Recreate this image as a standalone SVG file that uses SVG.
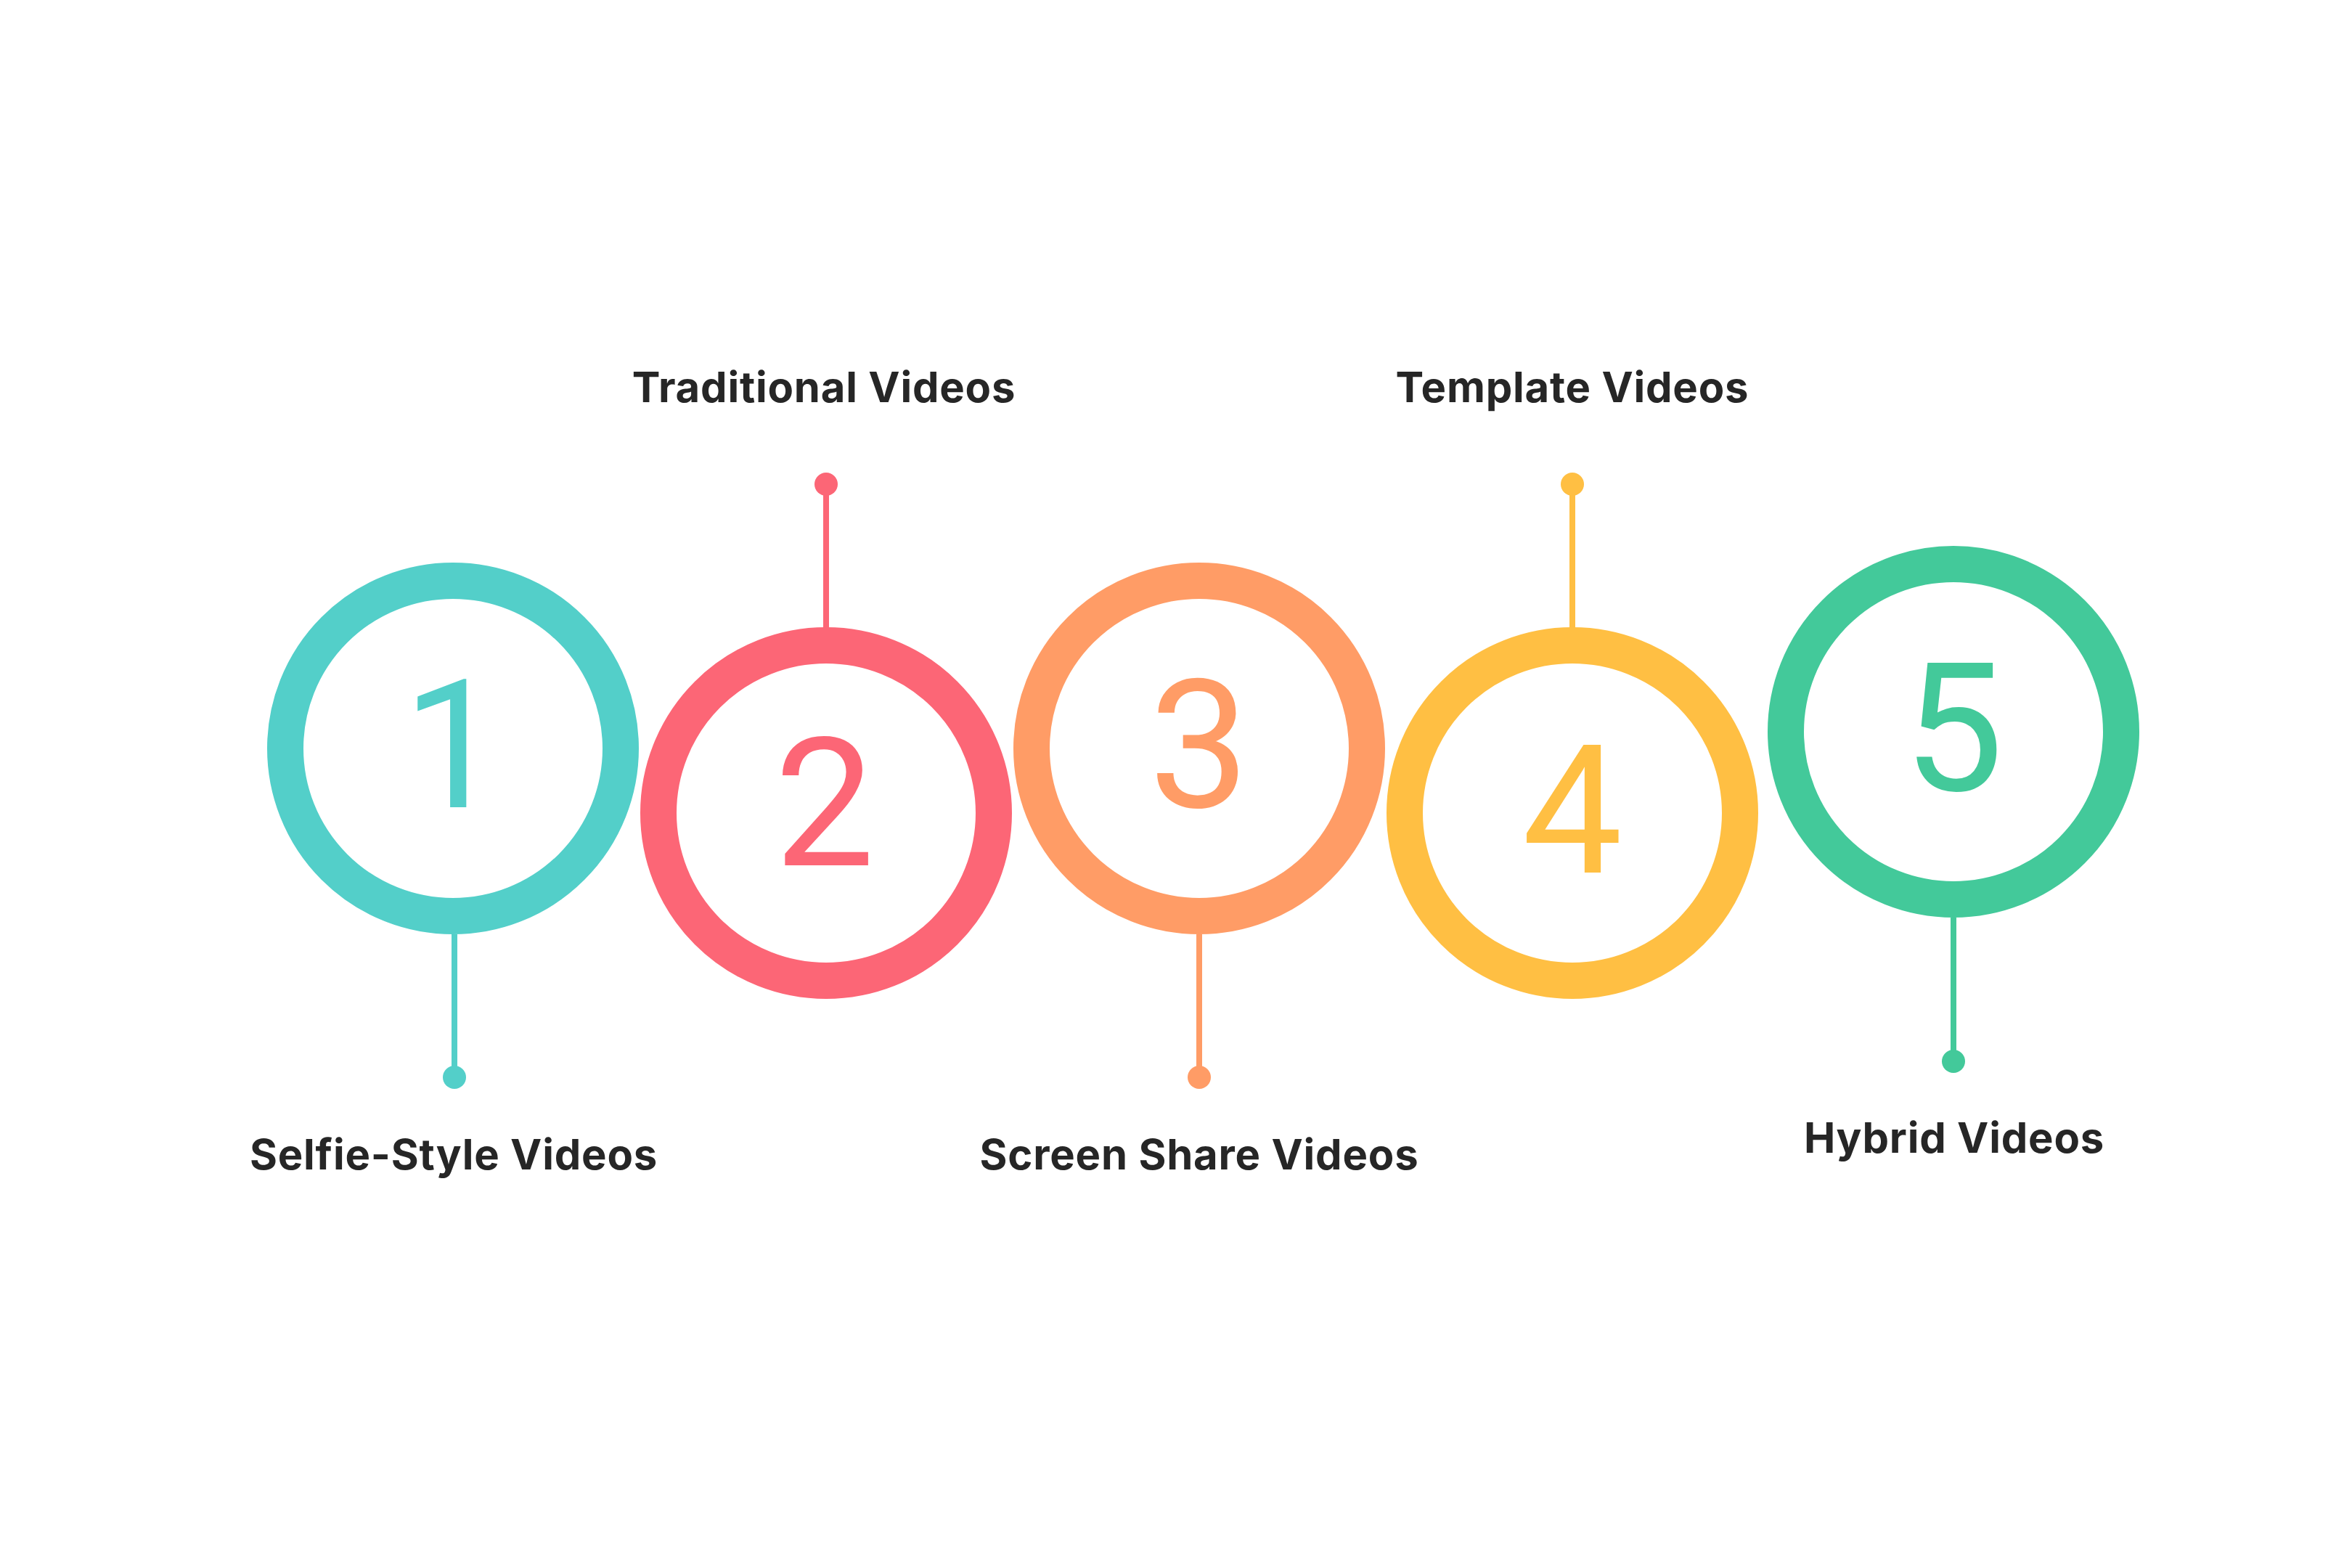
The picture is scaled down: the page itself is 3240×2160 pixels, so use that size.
<svg xmlns="http://www.w3.org/2000/svg" width="3240" height="2160" viewBox="0 0 3240 2160">
<style>
.ring{fill:none;stroke-width:50}
.num{font-family:Roboto,"Liberation Sans",sans-serif;font-size:246px;font-weight:400;text-anchor:middle}
.lbl{font-family:Inter,"Liberation Sans",sans-serif;font-size:58px;font-weight:700;fill:#262626;text-anchor:middle;letter-spacing:0.8px}
.stem{stroke-width:8;fill:none}
</style>
<rect width="3240" height="2160" fill="#ffffff"/>
<g id="connectors">
<line class="stem" x1="626" y1="1287" x2="626" y2="1484" stroke="#53CFC9"/>
<circle cx="626" cy="1484" r="16" fill="#53CFC9"/>
<line class="stem" x1="1138" y1="667" x2="1138" y2="866" stroke="#FC6676"/>
<circle cx="1138" cy="667" r="16" fill="#FC6676"/>
<line class="stem" x1="1652" y1="1287" x2="1652" y2="1484" stroke="#FF9C66"/>
<circle cx="1652" cy="1484" r="16" fill="#FF9C66"/>
<line class="stem" x1="2166" y1="667" x2="2166" y2="866" stroke="#FFBF43"/>
<circle cx="2166" cy="667" r="16" fill="#FFBF43"/>
<line class="stem" x1="2691" y1="1264" x2="2691" y2="1462" stroke="#43C99A"/>
<circle cx="2691" cy="1462" r="16" fill="#43C99A"/>
</g>
<g id="node1">
<circle class="ring" cx="624" cy="1031" r="231" stroke="#53CFC9"/>
<text class="num" x="624" y="1112" fill="#53CFC9">1</text>
<text class="lbl" x="625" y="1611">Selfie-Style Videos</text>
</g>
<g id="node2">
<circle class="ring" cx="1138" cy="1120" r="231" stroke="#FC6676"/>
<text class="num" x="1136" y="1192" fill="#FC6676">2</text>
<text class="lbl" x="1135" y="554">Traditional Videos</text>
</g>
<g id="node3">
<circle class="ring" cx="1652" cy="1031" r="231" stroke="#FF9C66"/>
<text class="num" x="1652" y="1112" fill="#FF9C66">3</text>
<text class="lbl" x="1652" y="1611">Screen Share Videos</text>
</g>
<g id="node4">
<circle class="ring" cx="2166" cy="1120" r="231" stroke="#FFBF43"/>
<text class="num" x="2166" y="1202" fill="#FFBF43">4</text>
<text class="lbl" x="2166" y="554">Template Videos</text>
</g>
<g id="node5">
<circle class="ring" cx="2691" cy="1008" r="231" stroke="#43C99A"/>
<text class="num" x="2691" y="1089" fill="#43C99A">5</text>
<text class="lbl" x="2692" y="1588">Hybrid Videos</text>
</g>
</svg>
